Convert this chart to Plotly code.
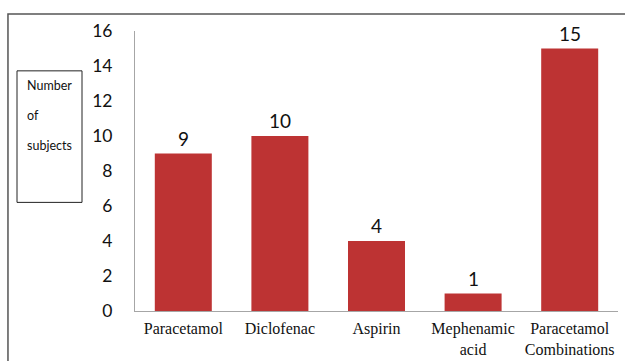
import plotly.graph_objects as go

categories = ["Paracetamol", "Diclofenac", "Aspirin", "Mephenamic<br>acid", "Paracetamol<br>Combinations"]
values = [9, 10, 4, 1, 15]
y_ticks = [0, 2, 4, 6, 8, 10, 12, 14, 16]
box_lines = ["Number", "of", "subjects"]

fig = go.Figure()
fig.add_trace(go.Bar(
    x=categories, y=values,
    marker=dict(color="#bd3333", line=dict(width=0)),
    width=0.59,
    hoverinfo="skip",
))

annotations = []
for c, v in zip(categories, values):
    annotations.append(dict(
        x=c, y=v, xref="x", yref="y", text=str(v), showarrow=False,
        yanchor="bottom", yshift=2,
        font=dict(family="Lato, Open Sans, sans-serif", size=19, color="#111"),
    ))

# label box text
box_y = [0.804, 0.6975, 0.5907]
for t, yy in zip(box_lines, box_y):
    annotations.append(dict(
        x=-0.228, y=yy, xref="paper", yref="paper", text=t, showarrow=False,
        xanchor="left", yanchor="middle",
        font=dict(family="Lato, Open Sans, sans-serif", size=12.5, color="#111"),
    ))

shapes = [
    dict(type="rect", xref="paper", yref="paper", x0=-0.2443, x1=-0.1097, y0=0.3879, y1=0.8577,
         line=dict(color="#222", width=1), fillcolor="rgba(0,0,0,0)"),
    dict(type="rect", xref="paper", yref="paper", x0=-0.263, x1=1.05, y0=-0.3, y1=1.0605,
         line=dict(color="#555", width=1.5), fillcolor="rgba(0,0,0,0)"),
]

fig.update_layout(
    width=625, height=361,
    margin=dict(l=135, r=7, t=31, b=50),
    paper_bgcolor="white", plot_bgcolor="white",
    showlegend=False,
    annotations=annotations,
    shapes=shapes,
    xaxis=dict(
        type="category", automargin=False,
        showline=True, linecolor="#a6a6a6", linewidth=1,
        showgrid=False, zeroline=False, ticks="",
        tickfont=dict(family="Liberation Serif, Times New Roman, serif", size=16, color="#111"),
        ticklabelstandoff=3,
    ),
    yaxis=dict(
        range=[0, 16], tickvals=y_ticks, automargin=False,
        showline=True, linecolor="#a6a6a6", linewidth=1,
        showgrid=False, zeroline=False, ticks="",
        tickfont=dict(family="Lato, Open Sans, sans-serif", size=17.5, color="#111"),
        ticklabelstandoff=18,
    ),
)

fig.write_html("out.html")
